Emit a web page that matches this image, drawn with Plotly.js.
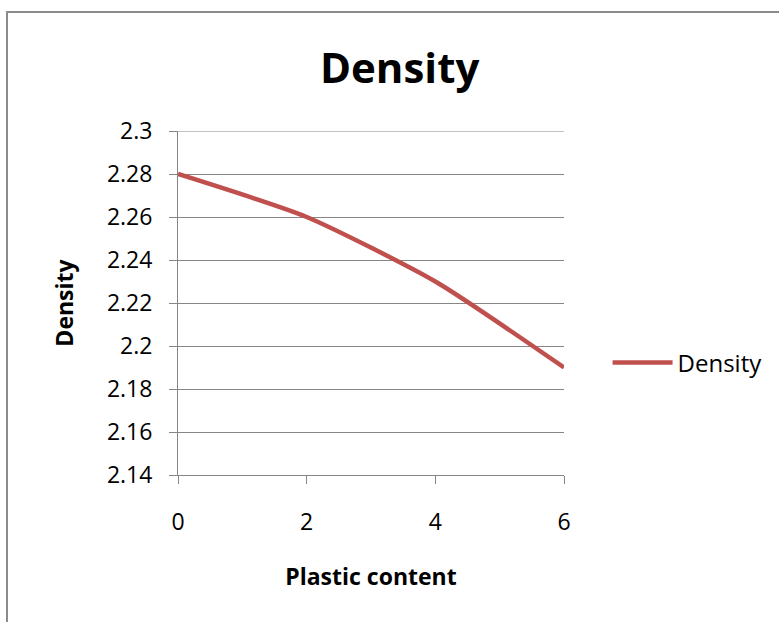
<!DOCTYPE html>
<html><head><meta charset="utf-8">
<script src="https://cdn.plot.ly/plotly-3.0.1.min.js"></script>
<style>
html,body{margin:0;padding:0;background:#fff;overflow:hidden;}
#frame{position:absolute;left:6px;top:11px;width:900px;height:800px;border-left:2px solid #8c8c8c;border-top:2px solid #8c8c8c;pointer-events:none;z-index:5;}
#chart{position:absolute;left:0;top:0;width:779px;height:622px;}
</style></head>
<body>
<div id="chart"></div><div id="frame"></div>
<script>
const plasticContent = [0, 2, 4, 6];
const density = [2.28, 2.26, 2.23, 2.19];
const yTicks = [2.14, 2.16, 2.18, 2.2, 2.22, 2.24, 2.26, 2.28, 2.3];
const yTickText = ["2.14", "2.16", "2.18", "2.2", "2.22", "2.24", "2.26", "2.28", "2.3"];
const xTicks = [0, 2, 4, 6];

const font = "Open Sans, Lato, sans-serif";
const yTop = yTicks[yTicks.length - 1];
Plotly.newPlot("chart", [{
  x: plasticContent, y: density, type: "scatter", mode: "lines", name: "Density",
  line: {color: "#C0504D", width: 4.5, shape: "spline", smoothing: 0.6}
}], {
  width: 779, height: 622,
  margin: {l: 178, r: 214, t: 131, b: 147},
  paper_bgcolor: "#fff", plot_bgcolor: "#fff",
  title: {text: "<b>Density</b>", font: {family: font, size: 42, color: "#000"}, x: 0.513, xanchor: "center", y: 0.89, yanchor: "middle"},
  xaxis: {
    range: [0, 6], tickvals: xTicks, ticktext: xTicks.map(String),
    showgrid: false, zeroline: false, showline: true, linecolor: "#868686", linewidth: 1,
    ticks: "outside", ticklen: 8, tickcolor: "#868686", tickwidth: 1,
    ticklabelstandoff: 18,
    tickfont: {family: font, size: 23, color: "#000"},
    title: {text: "<b>Plastic content</b>", font: {family: font, size: 23, color: "#000"}, standoff: 33}
  },
  yaxis: {
    range: [2.14, 2.3], tickvals: yTicks, ticktext: yTickText,
    showgrid: true, gridcolor: "#868686", gridwidth: 1, zeroline: false,
    showline: true, linecolor: "#868686", linewidth: 1,
    ticks: "outside", ticklen: 8, tickcolor: "#868686", tickwidth: 1,
    ticklabelstandoff: 12,
    tickfont: {family: font, size: 23, color: "#000"},
    title: {text: "<b>Density</b>", font: {family: font, size: 23, color: "#000"}, standoff: 26}
  },
  shapes: [{type: "line", xref: "paper", yref: "y", x0: 0, x1: 1, y0: yTop, y1: yTop, line: {color: "#868686", width: 1}, layer: "below"}],
  showlegend: true,
  legend: {x: 1.11, xanchor: "left", y: 0.326, yanchor: "middle", font: {family: font, size: 24, color: "#000"}, bgcolor: "rgba(0,0,0,0)", itemwidth: 60}
}, {displayModeBar: false, staticPlot: true});
</script>
</body></html>
